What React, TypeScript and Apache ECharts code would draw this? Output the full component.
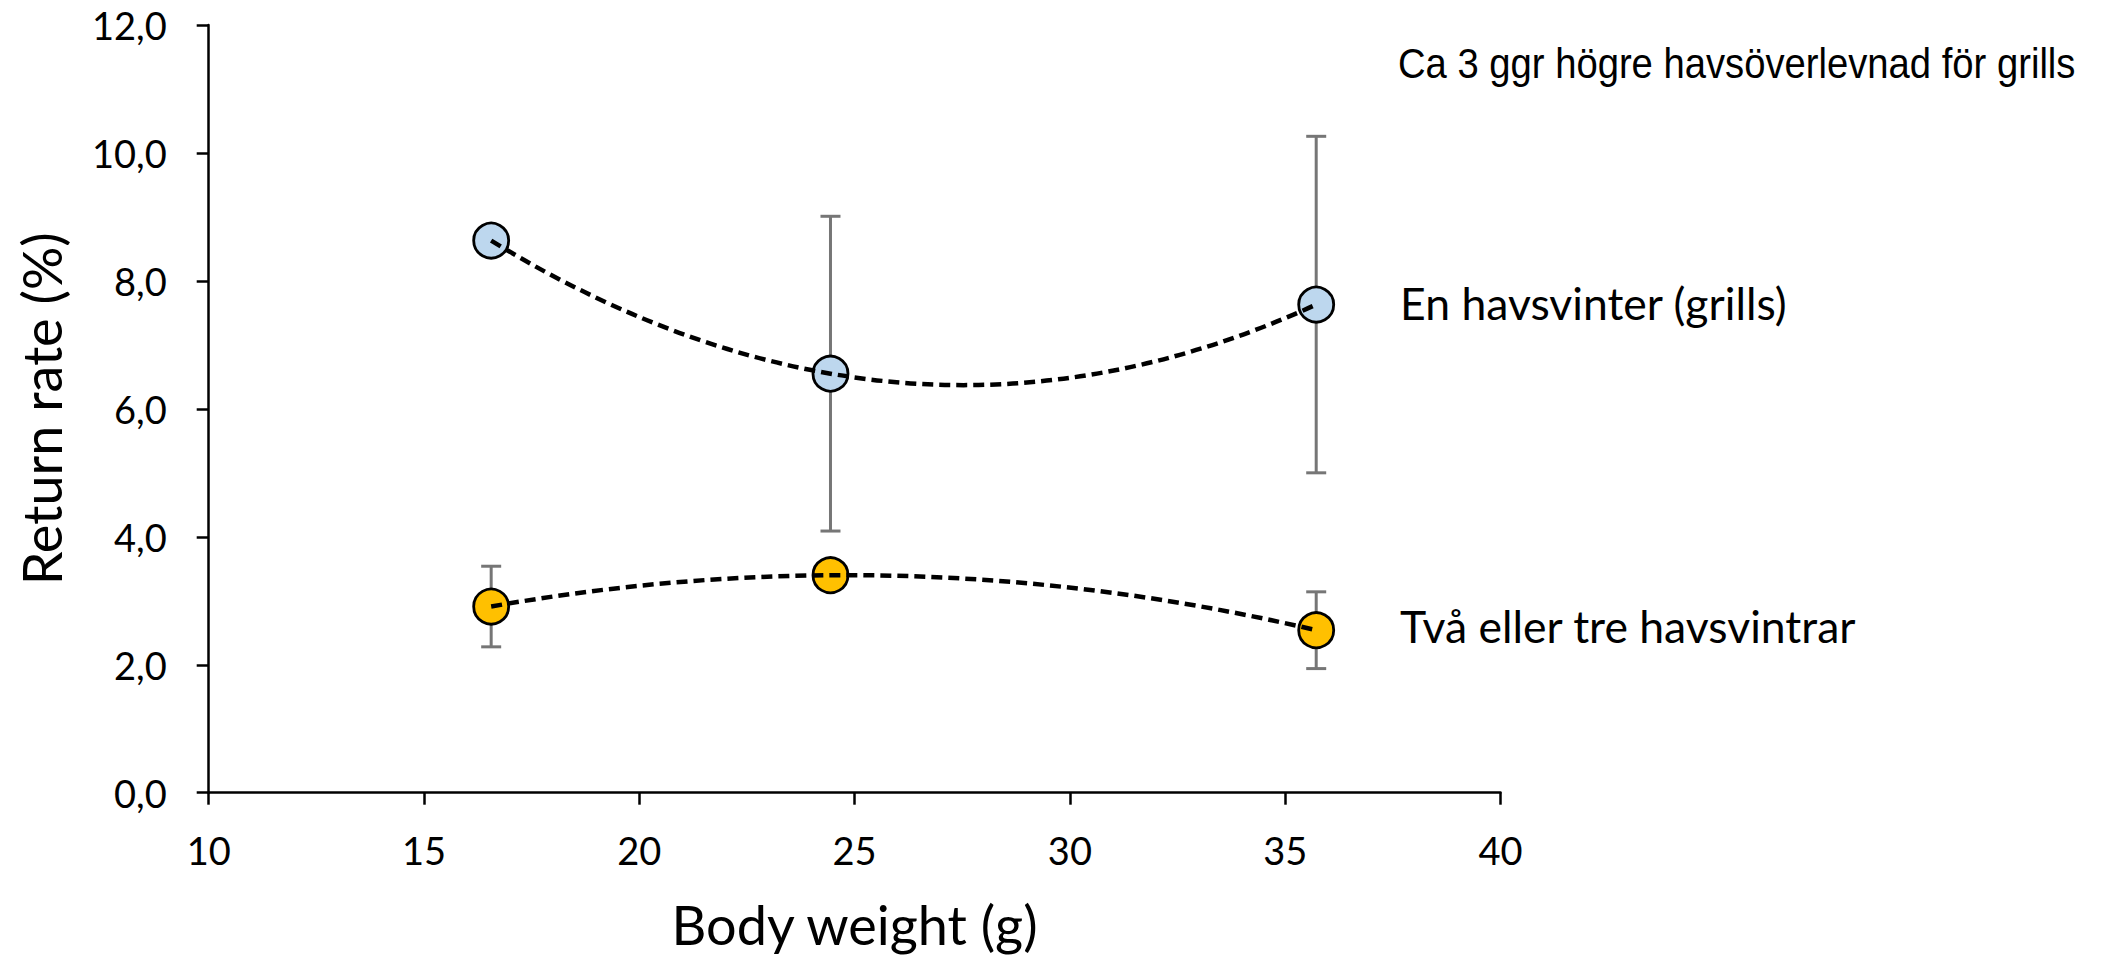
import React, { useEffect, useRef } from "react";
import * as echarts from "echarts";

// Mean body weight (g) of each size group
const weights = [16.56, 24.44, 35.72];

// Return rate (%) per group, one sea winter (grilse)
const oneSeaWinter = [8.63, 6.55, 7.63];
const oneSeaWinterErr: (number | null)[] = [null, 2.46, 2.63];

// Return rate (%) per group, two or three sea winters
const multiSeaWinter = [2.91, 3.4, 2.54];
const multiSeaWinterErr: (number | null)[] = [0.63, null, 0.6];

const oneSeaWinterLabel = "En havsvinter (grills)";
const multiSeaWinterLabel = "Två eller tre havsvintrar";
const note = "Ca 3 ggr högre havsöverlevnad för grills";

const xTicks = { min: 10, max: 40, interval: 5 };
const yTicks = { min: 0, max: 12, interval: 2 };

const LABEL_FONT = "Lato, 'Open Sans', sans-serif";

// Second-order polynomial trend through three points, expressed as a
// quadratic Bezier (end points + control point) in data space.
function quadTrend(xs: number[], ys: number[]) {
  const [x1, x2, x3] = xs;
  const [y1, y2, y3] = ys;
  const f12 = (y2 - y1) / (x2 - x1);
  const f23 = (y3 - y2) / (x3 - x2);
  const a = (f23 - f12) / (x3 - x1);
  const slope1 = f12 + a * (x1 - x2);
  const cx = (x1 + x3) / 2;
  const cy = y1 + slope1 * (cx - x1);
  return { start: [x1, y1], control: [cx, cy], end: [x3, y3] };
}

function errorBarSeries(name: string, values: number[], errs: (number | null)[]) {
  const data = weights
    .map((w, i) => (errs[i] == null ? null : [w, values[i] - (errs[i] as number), values[i] + (errs[i] as number)]))
    .filter((d) => d !== null);
  return {
    type: "custom",
    name,
    z: 2,
    silent: true,
    data,
    renderItem: (_params: any, api: any) => {
      const x = api.value(0);
      const top = api.coord([x, api.value(2)]);
      const bot = api.coord([x, api.value(1)]);
      const w = 10;
      const style = { stroke: "#767676", lineWidth: 3 };
      return {
        type: "group",
        children: [
          { type: "line", shape: { x1: top[0], y1: top[1], x2: bot[0], y2: bot[1] }, style },
          { type: "line", shape: { x1: top[0] - w, y1: top[1], x2: top[0] + w, y2: top[1] }, style },
          { type: "line", shape: { x1: bot[0] - w, y1: bot[1], x2: bot[0] + w, y2: bot[1] }, style },
        ],
      };
    },
  };
}

function trendSeries(name: string, values: number[]) {
  const t = quadTrend(weights, values);
  return {
    type: "custom",
    name,
    z: 4,
    silent: true,
    data: [t.start],
    renderItem: (_params: any, api: any) => {
      const p0 = api.coord(t.start);
      const cp = api.coord(t.control);
      const p1 = api.coord(t.end);
      return {
        type: "bezierCurve",
        shape: { x1: p0[0], y1: p0[1], x2: p1[0], y2: p1[1], cpx1: cp[0], cpy1: cp[1] },
        style: { stroke: "#000", fill: "none", lineWidth: 4.5, lineDash: [11, 6] },
      };
    },
  };
}

function pointSeries(name: string, values: number[], color: string, label: string, offsetY: number) {
  return {
    type: "scatter",
    name,
    z: 3,
    symbol: "circle",
    symbolSize: 35,
    itemStyle: { color, borderColor: "#000", borderWidth: 2.8, opacity: 1 },
    emphasis: { disabled: true },
    data: weights.map((w, i) => {
      const item: any = { value: [w, values[i]] };
      if (i === weights.length - 1) {
        item.label = {
          show: true,
          position: "right",
          distance: 65,
          offset: [0, offsetY],
          formatter: label,
          fontFamily: LABEL_FONT,
          fontSize: 44.5,
          color: "#000",
        };
      }
      return item;
    }),
  };
}

export default function App() {
  const ref = useRef<HTMLDivElement>(null);

  useEffect(() => {
    if (!ref.current) return;
    const chart = echarts.init(ref.current, null, { renderer: "svg" });
    const axisLine = { show: true, lineStyle: { color: "#000", width: 2.5 } };
    const axisTick = { show: true, inside: false, length: 12, lineStyle: { color: "#000", width: 2.5 } };

    chart.setOption({
      animation: false,
      backgroundColor: "#fff",
      grid: { left: 208.7, right: 607.5, top: 25, bottom: 165.3, outerBoundsMode: "none" },
      xAxis: {
        type: "value",
        min: xTicks.min,
        max: xTicks.max,
        interval: xTicks.interval,
        name: "Body weight (g)",
        nameLocation: "middle",
        nameGap: 105,
        nameMoveOverlap: false,
        nameTextStyle: { fontFamily: LABEL_FONT, fontSize: 54, color: "#000" },
        axisLine,
        axisTick,
        splitLine: { show: false },
        axisLabel: { margin: 38, fontFamily: LABEL_FONT, fontSize: 38, color: "#000" },
      },
      yAxis: {
        type: "value",
        min: yTicks.min,
        max: yTicks.max,
        interval: yTicks.interval,
        name: "Return rate (%)",
        nameLocation: "middle",
        nameGap: 140,
        nameMoveOverlap: false,
        nameTextStyle: { fontFamily: LABEL_FONT, fontSize: 54, color: "#000" },
        axisLine,
        axisTick,
        splitLine: { show: false },
        axisLabel: {
          margin: 42,
          fontFamily: LABEL_FONT,
          fontSize: 38,
          color: "#000",
          formatter: (v: number) => v.toFixed(1).replace(".", ","),
        },
      },
      graphic: [
        {
          type: "text",
          x: 1398,
          y: 64,
          scaleX: 0.91,
          silent: true,
          style: {
            text: note,
            fontFamily: "'Liberation Sans', Arial, sans-serif",
            fontSize: 42,
            fill: "#000",
            textAlign: "left",
            textVerticalAlign: "middle",
          },
        },
      ],
      series: [
        errorBarSeries("oneSeaWinterErr", oneSeaWinter, oneSeaWinterErr),
        errorBarSeries("multiSeaWinterErr", multiSeaWinter, multiSeaWinterErr),
        pointSeries(oneSeaWinterLabel, oneSeaWinter, "#BDD7EE", oneSeaWinterLabel, -2),
        pointSeries(multiSeaWinterLabel, multiSeaWinter, "#FFC000", multiSeaWinterLabel, -5),
        trendSeries("oneSeaWinterTrend", oneSeaWinter),
        trendSeries("multiSeaWinterTrend", multiSeaWinter),
      ],
    });

    return () => chart.dispose();
  }, []);

  return (
    <div
      ref={ref}
      style={{ position: "fixed", left: 0, top: 0, width: 2108, height: 958, background: "#fff" }}
    />
  );
}
